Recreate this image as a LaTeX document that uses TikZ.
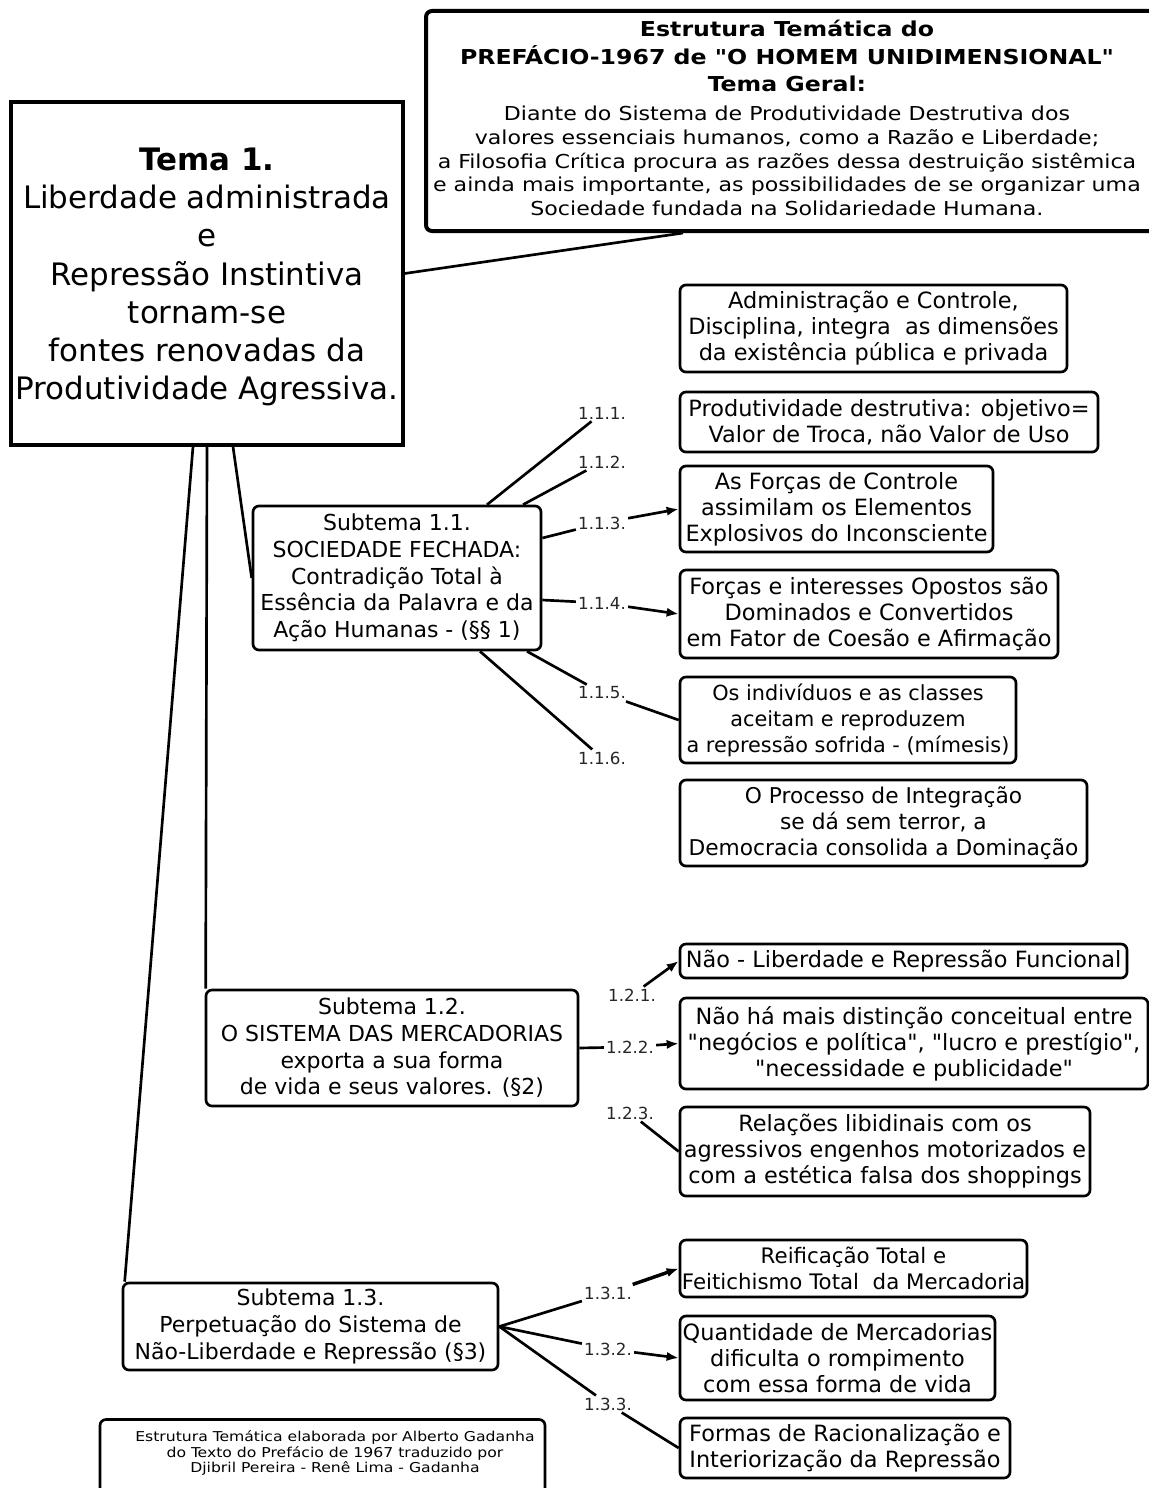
\documentclass[tikz,border=0pt]{standalone}
\usepackage{fontspec}
\setmainfont{DejaVu Sans}[Ligatures=TeXOff]
\newfontfamily\condfont[FakeStretch=1.28]{DejaVu Sans Condensed}
\usetikzlibrary{arrows.meta, calc}

\tikzset{
  box/.style={draw, line width=2pt, rounded corners=4.5pt, align=center, inner sep=0pt,
    font=\fontsize{16.8}{19.5}\selectfont},
  subbox/.style={box, font=\fontsize{16.5}{20}\selectfont},
  num/.style={inner sep=1.5pt, font=\fontsize{12.5}{13}\selectfont, text=black!85},
  conn/.style={line width=2pt},
  arr/.style={conn, -{Latex[length=9pt, width=7pt]}}
}

\begin{document}
\begin{tikzpicture}[x=0.75pt, y=-0.75pt]
\useasboundingbox (0,0) rectangle (1149,1488);

% cabecalho
\node[draw, line width=3pt, rounded corners=4.5pt, minimum width=550.5pt, minimum height=165pt] (top) at (793,121) {};
\node[align=center, inner sep=0pt, font=\condfont\fontsize{14.4}{17.8}\selectfont] (toptext) at (787,118)
  {{\bfseries\fontsize{15.4}{17.8}\selectfont Estrutura Temática do}\\[2.8pt]
   {\bfseries\fontsize{15.4}{17.8}\selectfont PREFÁCIO-1967 de "O HOMEM UNIDIMENSIONAL"}\\[2.8pt]
   {\bfseries\fontsize{15.4}{17.8}\selectfont Tema Geral:}\\[4pt]
   Diante do Sistema de Produtividade Destrutiva dos\\
   valores essenciais humanos, como a Razão e Liberdade;\\
   a Filosofia Crítica procura as razões dessa destruição sistêmica\\
   e ainda mais importante, as possibilidades de se organizar uma\\
   Sociedade fundada na Solidariedade Humana.};

% tema
\node[draw, line width=2.5pt, minimum width=294pt, minimum height=257.25pt] (tema) at (207,273.5) {};
\node[align=center, inner sep=0pt, font=\fontsize{23.2}{28.7}\selectfont] (tematext) at (207,277)
  {{\bfseries Tema 1.}\\Liberdade administrada\\e\\Repressão Instintiva\\tornam-se\\fontes renovadas da\\Produtividade Agressiva.};
\draw[conn] (tema.east) -- ($(top.south)+(-110,0)$);

% subtemas
\node[subbox, minimum width=216pt, minimum height=108pt] (S11) at (397,578)
  {Subtema 1.1.\\SOCIEDADE FECHADA:\\Contradição Total à\\Essência da Palavra e da\\Ação Humanas - (§§ 1)};
\node[subbox, minimum width=279pt, minimum height=87pt] (S12) at (392,1048)
  {Subtema 1.2.\\O SISTEMA DAS MERCADORIAS\\exporta a sua forma\\de vida e seus valores. (§2)};
\node[subbox, minimum width=281.25pt, minimum height=65.25pt] (S13) at (310.5,1326.5)
  {Subtema 1.3.\\Perpetuação do Sistema de\\Não-Liberdade e Repressão (§3)};

\draw[conn] ($(tema.south)+(26,0)$) -- (S11.west);
\draw[conn] (tema.south) -- ($(S12.north west)+(1,0)$);
\draw[conn] ($(tema.south)+(-14,0)$) -- ($(S13.north west)+(3,0)$);

% caixas do subtema 1.1
\node[box, minimum width=290.25pt, minimum height=65.25pt] (A) at (873.5,328.5)
  {Administração e Controle,\\Disciplina, integra~ as dimensões\\da existência pública e privada};
\node[box, minimum width=313.5pt, minimum height=45pt] (B) at (889,422)
  {Produtividade destrutiva: objetivo=\\Valor de Troca, não Valor de Uso};
\node[box, minimum width=234.75pt, minimum height=64.5pt] (C) at (836.5,509)
  {As Forças de Controle\\assimilam os Elementos\\Explosivos do Inconsciente};
\node[box, minimum width=283.5pt, minimum height=66pt] (D) at (869,614)
  {Forças e interesses Opostos são\\Dominados e Convertidos\\em Fator de Coesão e Afirmação};
\node[box, minimum width=252pt, minimum height=64.5pt, font=\fontsize{15.6}{19.5}\selectfont] (E) at (848,720)
  {Os indivíduos e as classes\\aceitam e reproduzem\\a repressão sofrida - (mímesis)};
\node[box, minimum width=305.25pt, minimum height=64.5pt, font=\fontsize{16.3}{19.5}\selectfont] (F) at (883.5,823)
  {O Processo de Integração\\se dá sem terror, a\\Democracia consolida a Dominação};

\node[num] (l111) at (602,413) {1.1.1.};
\node[num] (l112) at (602,462) {1.1.2.};
\node[num] (l113) at (602,523) {1.1.3.};
\node[num] (l114) at (602,603) {1.1.4.};
\node[num] (l115) at (602,693) {1.1.5.};
\node[num] (l116) at (602,758) {1.1.6.};

\draw[conn] ($(S11.north)+(90,0)$) -- (l111);
\draw[conn] ($(S11.north)+(126,0)$) -- (l112);
\draw[conn] ($(S11.east)+(0,-40)$) -- (l113);
\draw[arr] (l113) -- (C.west);
\draw[conn] ($(S11.east)+(0,22)$) -- (l114);
\draw[arr] (l114) -- (D.west);
\draw[conn] ($(S11.south)+(130,0)$) -- (l115);
\draw[conn] (l115) -- (E.west);
\draw[conn] ($(S11.south)+(83,0)$) -- (l116);

% caixas do subtema 1.2
\node[box, minimum width=335.25pt, minimum height=25.5pt] (G) at (903.5,961)
  {Não - Liberdade e Repressão Funcional};
\node[box, minimum width=351pt, minimum height=68.25pt] (H) at (914,1043.5)
  {Não há mais distinção conceitual entre\\"negócios e política", "lucro e prestígio",\\"necessidade e publicidade"};
\node[box, minimum width=307.5pt, minimum height=66.75pt] (I) at (885,1151.5)
  {Relações libidinais com os\\agressivos engenhos motorizados e\\com a estética falsa dos shoppings};

\node[num] (l121) at (632,995) {1.2.1.};
\node[num] (l122) at (630,1047) {1.2.2.};
\node[num] (l123) at (630,1113) {1.2.3.};

\draw[arr] (l121) -- (G.west);
\draw[conn] (S12.east) -- (l122);
\draw[arr] (l122) -- (H.west);
\draw[conn] (l123) -- (I.west);

% caixas do subtema 1.3
\node[box, minimum width=260.25pt, minimum height=42.75pt, font=\fontsize{16}{19.5}\selectfont] (J) at (853.5,1268.5)
  {Reificação Total e\\Feitichismo Total~ da Mercadoria};
\node[box, minimum width=236.25pt, minimum height=63pt] (K) at (837.5,1358)
  {Quantidade de Mercadorias\\dificulta o rompimento\\com essa forma de vida};
\node[box, minimum width=247.5pt, minimum height=45pt] (L) at (845,1448)
  {Formas de Racionalização e\\Interiorização da Repressão};

\node[num] (l131) at (608,1293) {1.3.1.};
\node[num] (l132) at (608,1349) {1.3.2.};
\node[num] (l133) at (608,1404) {1.3.3.};

\draw[conn] (S13.east) -- (l131);
\draw[arr, line width=2.6pt] (l131) -- (J.west);
\draw[conn] (S13.east) -- (l132);
\draw[arr] (l132) -- (K.west);
\draw[conn] (S13.east) -- (l133);
\draw[conn] (l133) -- (L.west);

% creditos
\node[draw, line width=2pt, rounded corners=4.5pt, minimum width=333.75pt, minimum height=56.25pt] (credit) at (322.5,1457) {};
\node[align=center, inner sep=0pt, font=\condfont\fontsize{10.2}{11.6}\selectfont] (credittext) at (335,1453)
  {Estrutura Temática elaborada por Alberto Gadanha\\do Texto do Prefácio de 1967 traduzido por\\Djibril Pereira - Renê Lima - Gadanha};
\end{tikzpicture}
\end{document}
